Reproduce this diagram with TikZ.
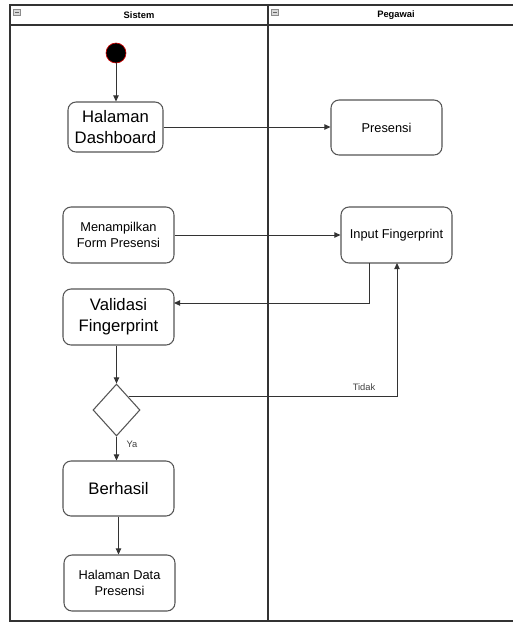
\documentclass[tikz,border=0pt]{standalone}
\usepackage{fontspec}
\setmainfont{Liberation Sans}
\usetikzlibrary{shapes.geometric,arrows.meta,calc}
\definecolor{edgec}{HTML}{333333}
\definecolor{boxc}{HTML}{555555}
\tikzset{
  act/.style={draw=boxc, line width=0.8pt, rounded corners=6pt, fill=white, align=center, inner sep=2pt, text=black},
  big/.style={font=\fontsize{12.5}{15.5}\selectfont},
  small/.style={font=\fontsize{9.6}{12}\selectfont},
  flow/.style={draw=edgec, line width=0.7pt, -{Triangle[length=4.5pt,width=4pt]}},
  lbl/.style={font=\fontsize{7}{8}\selectfont, text=black!75},
  lane/.style={draw=edgec, line width=0.8pt},
  hicon/.style={draw=black!45, fill=black!15, minimum width=5pt, minimum height=4.5pt, inner sep=0pt}
}
\begin{document}
\begin{tikzpicture}[x=0.75pt,y=-0.75pt]
\useasboundingbox (0,0) rectangle (513,622);
\fill[white] (0,0) rectangle (513,622);
\begin{scope}
\clip (0,0) rectangle (513,622);
\draw[lane] (10,5) rectangle (526,621);
\draw[lane] (10,25) -- (526,25);
\draw[lane] (268,5) -- (268,621);
\end{scope}
\node[hicon] (ic1) at (17,12) {};
\draw[black!60, line width=0.5pt] ([xshift=-1.5pt]ic1.center) -- ([xshift=1.5pt]ic1.center);
\node[hicon] (ic2) at (275,12) {};
\draw[black!60, line width=0.5pt] ([xshift=-1.5pt]ic2.center) -- ([xshift=1.5pt]ic2.center);
\node[font=\fontsize{7}{8}\selectfont\bfseries] (h1) at (139,15) {Sistem};
\node[font=\fontsize{7}{8}\selectfont\bfseries] (h2) at (396,15) {Pegawai};

\node[circle, fill=black, draw=red!80!black, line width=0.5pt, minimum size=15pt, inner sep=0pt] (start) at (116,53) {};
\node[act, big, minimum width=71.25pt, minimum height=37.5pt] (dash) at (115.5,127) {Halaman\\Dashboard};
\node[act, small, minimum width=83.25pt, minimum height=41.25pt] (pres) at (386.5,127.5) {Presensi};
\node[act, small, minimum width=83.25pt, minimum height=42pt] (menam) at (118.5,235) {Menampilkan\\Form Presensi};
\node[act, small, minimum width=83.25pt, minimum height=42pt] (input) at (396.5,235) {Input Fingerprint};
\node[act, big, minimum width=83.25pt, minimum height=42pt] (valid) at (118.5,317) {Validasi\\Fingerprint};
\node[diamond, draw=boxc, line width=0.8pt, fill=white, minimum width=35.25pt, minimum height=39pt, inner sep=0pt] (dec) at (116.5,410) {};
\node[act, big, minimum width=83.25pt, minimum height=41.25pt] (ber) at (118.5,488.5) {Berhasil};
\node[act, small, minimum width=83.25pt, minimum height=42pt] (data) at (119.5,583) {Halaman Data\\Presensi};

\coordinate (inB) at (369,263);
\coordinate (vE) at (174,303);
\coordinate (inB2) at (397,263);

\draw[flow] (start) -- (dash.north -| start);
\draw[flow] (dash.east) -- (pres.west |- dash.east);
\draw[flow] (menam.east) -- (input.west);
\draw[flow] (inB) |- (vE);
\draw[flow] (valid.south -| dec.north) -- (dec.north);
\draw[flow] (dec.north east) -| (inB2);
\node[lbl] (tidak) at (364,387) {Tidak};
\draw[flow] (dec.south) -- (dec.south |- ber.north);
\node[lbl] (ya) at (132,444) {Ya};
\draw[flow] (ber.south) -- (ber.south |- data.north);
\end{tikzpicture}
\end{document}
